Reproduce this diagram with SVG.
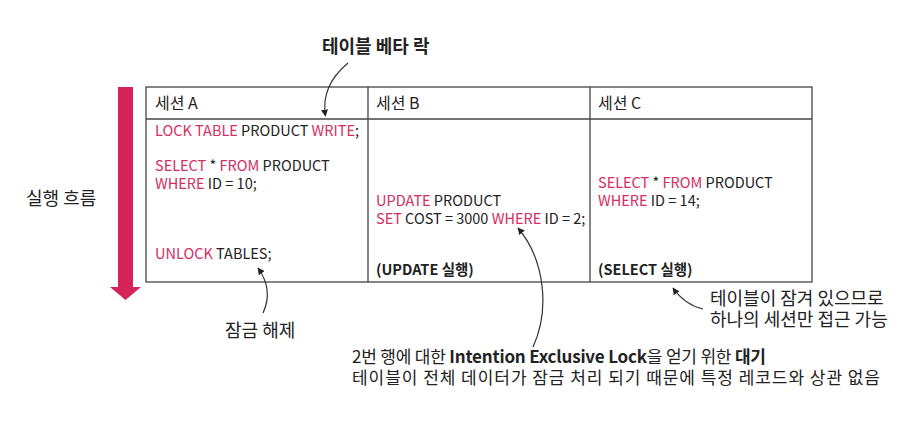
<svg xmlns="http://www.w3.org/2000/svg" width="919" height="441" viewBox="0 0 919 441">
<style>
text{font-family:"Noto Sans CJK KR","Noto Sans",sans-serif;fill:#222}
.t{font-size:14.5px}
.h{font-size:16px}
.k{fill:#d42e62}
.b{font-weight:bold}
.lbl{font-size:18px}
.big{font-size:18px}
.note{font-size:17px}
.ln{fill:none;stroke:#444;stroke-width:1.3}
.conn{fill:none;stroke:#333;stroke-width:1.2}
</style>
<defs>
<marker id="ah" viewBox="0 0 10 10" refX="9" refY="5" markerWidth="7" markerHeight="7" orient="auto-start-reverse" markerUnits="userSpaceOnUse">
<path d="M0,0 L10,5 L0,10 z" fill="#222"/>
</marker>
</defs>
<rect width="919" height="441" fill="#fff"/>

<g id="flow">
<rect x="118" y="87" width="15" height="200" fill="#d6245a"/>
<polygon points="110,287 141,287 125.5,300" fill="#d6245a"/>
<text class="lbl" x="26" y="205">실행 흐름</text>
</g>

<g id="table">
<rect x="146" y="87" width="666" height="195" class="ln"/>
<line x1="146" y1="119" x2="812" y2="119" class="ln"/>
<line x1="368" y1="87" x2="368" y2="282" class="ln"/>
<line x1="590" y1="87" x2="590" y2="282" class="ln"/>
</g>

<g id="sessionA">
<text class="h" x="155" y="109">세션 A</text>
<text class="t" x="155" y="136"><tspan class="k">LOCK TABLE</tspan> PRODUCT <tspan class="k">WRITE</tspan>;</text>
<text class="t" x="155" y="171"><tspan class="k">SELECT</tspan> * <tspan class="k">FROM</tspan> PRODUCT</text>
<text class="t" x="155" y="189"><tspan class="k">WHERE</tspan> ID = 10;</text>
<text class="t" x="155" y="259"><tspan class="k">UNLOCK</tspan> TABLES;</text>
</g>

<g id="sessionB">
<text class="h" x="376" y="109">세션 B</text>
<text class="t" x="376" y="206"><tspan class="k">UPDATE</tspan> PRODUCT</text>
<text class="t" x="376" y="224"><tspan class="k">SET</tspan> COST = 3000 <tspan class="k">WHERE</tspan> ID = 2;</text>
<text class="t b" x="376" y="275">(UPDATE 실행)</text>
</g>

<g id="sessionC">
<text class="h" x="598" y="109">세션 C</text>
<text class="t" x="598" y="188"><tspan class="k">SELECT</tspan> * <tspan class="k">FROM</tspan> PRODUCT</text>
<text class="t" x="598" y="206"><tspan class="k">WHERE</tspan> ID = 14;</text>
<text class="t b" x="598" y="275">(SELECT 실행)</text>
</g>

<g id="title">
<text class="big b" x="322" y="53">테이블 베타 락</text>
</g>

<g id="unlockNote">
<text class="lbl" x="225" y="337">잠금 해제</text>
</g>

<g id="lockNote">
<text class="lbl" x="710" y="305">테이블이 잠겨 있으므로</text>
<text class="lbl" x="710" y="326">하나의 세션만 접근 가능</text>
</g>

<g id="waitNote">
<text class="note" x="352" y="363" textLength="414" lengthAdjust="spacing">2번 행에 대한 <tspan class="b">Intention Exclusive Lock</tspan>을 얻기 위한 <tspan class="b">대기</tspan></text>
<text class="note" x="352" y="384" textLength="528" lengthAdjust="spacing">테이블이 전체 데이터가 잠금 처리 되기 때문에 특정 레코드와 상관 없음</text>
</g>

<g id="connectors">
<path class="conn" d="M348,63 C330,78 322,95 325.5,116" marker-end="url(#ah)"/>
<path class="conn" d="M263,313 C270,298 268,282 258,268" marker-end="url(#ah)"/>
<path class="conn" d="M533,347 C550,310 545,260 518,228" marker-end="url(#ah)"/>
<path class="conn" d="M703,309 C690,306 680,298 673,288" marker-end="url(#ah)"/>
</g>
</svg>
